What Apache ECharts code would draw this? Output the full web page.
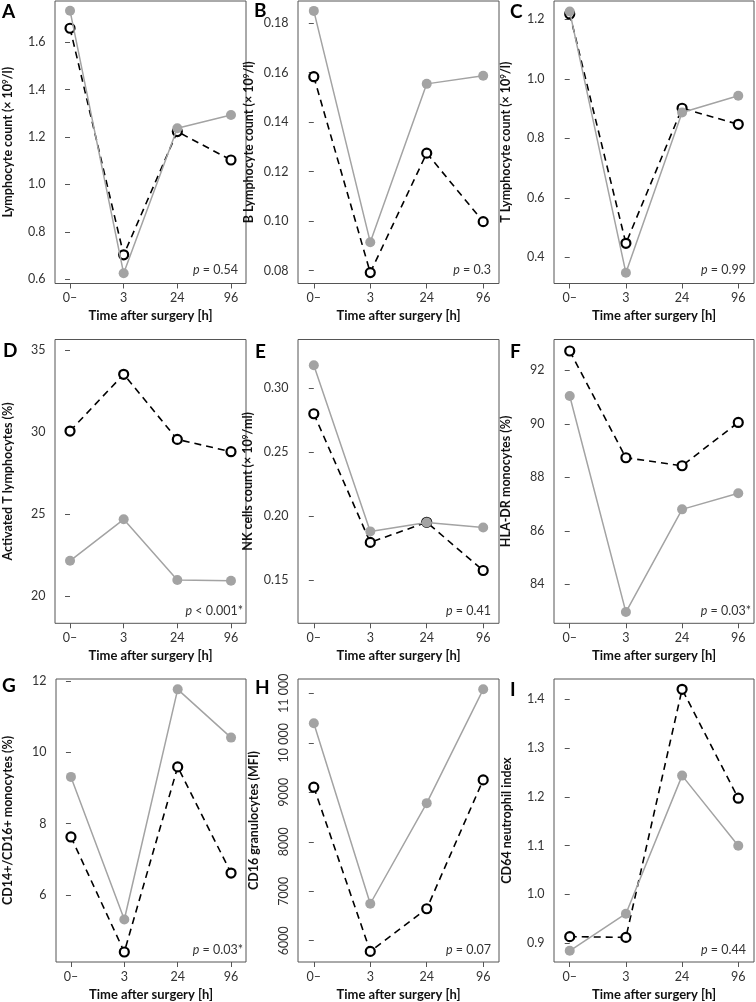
<!DOCTYPE html>
<html>
<head>
<meta charset="utf-8">
<script src="https://cdn.jsdelivr.net/npm/echarts@6/dist/echarts.min.js"></script>
<style>
html,body{margin:0;padding:0;background:#fff;}
#chart{width:756px;height:1002px;}
</style>
</head>
<body>
<div id="chart"></div>
<script>
// ---- data ----
const categories = ['0–', '3', '24', '96'];
const xTitle = 'Time after surgery [h]';
const panelLetters = ['A','B','C','D','E','F','G','H','I'];
// {s|9} marks the superscript 9 of 10^9
const yTitles = [
  'Lymphocyte count (× 10{s|9}/l)',
  'B Lymphocyte count (× 10{s|9}/l)',
  'T Lymphocyte count (× 10{s|9}/l)',
  'Activated T lymphocytes (%)',
  'NK cells count (× 10{s|9}/ml)',
  'HLA-DR monocytes (%)',
  'CD14+/CD16+ monocytes (%)',
  'CD16 granulocytes (MFI)',
  'CD64 neutrophil index'
];
const pSymbols = ['=', '=', '=', '<', '=', '=', '=', '=', '='];
const pValues = ['0.54', '0.3', '0.99', '0.001*', '0.41', '0.03*', '0.03*', '0.07', '0.44'];

// filled grey series and open black series, per panel
const lymphGrey  = [1.733, 0.625, 1.237, 1.293];
const lymphBlack = [1.659, 0.703, 1.223, 1.103];
const bLymphGrey  = [0.185, 0.0915, 0.1555, 0.1588];
const bLymphBlack = [0.1584, 0.0792, 0.1275, 0.0998];
const tLymphGrey  = [1.226, 0.348, 0.887, 0.943];
const tLymphBlack = [1.218, 0.447, 0.901, 0.847];
const actTGrey  = [22.15, 24.68, 20.98, 20.93];
const actTBlack = [30.06, 33.52, 29.55, 28.8];
const nkGrey  = [0.3178, 0.1879, 0.1949, 0.191];
const nkBlack = [0.2799, 0.1793, 0.195, 0.1573];
const hlaGrey  = [91.04, 82.96, 86.8, 87.4];
const hlaBlack = [92.72, 88.73, 88.43, 90.05];
const cd14Grey  = [9.31, 5.32, 11.76, 10.41];
const cd14Black = [7.63, 4.41, 9.59, 6.62];
const cd16Grey  = [10395, 6747, 8780, 11081];
const cd16Black = [9103, 5784, 6646, 9250];
const cd64Grey  = [0.884, 0.960, 1.2434, 1.0994];
const cd64Black = [0.913, 0.9115, 1.4205, 1.197];

// y tick values per panel
const yTicksA = [0.6, 0.8, 1.0, 1.2, 1.4, 1.6];
const yTicksB = [0.08, 0.10, 0.12, 0.14, 0.16, 0.18];
const yTicksC = [0.4, 0.6, 0.8, 1.0, 1.2];
const yTicksD = [20, 25, 30, 35];
const yTicksE = [0.15, 0.20, 0.25, 0.30];
const yTicksF = [84, 86, 88, 90, 92];
const yTicksG = [6, 8, 10, 12];
const yTicksH = [6000, 7000, 8000, 9000, 10000, 11000];
const yTicksI = [0.9, 1.0, 1.1, 1.2, 1.3, 1.4];

// y axis extents
const yRanges = [
  [0.582, 1.774], [0.0748, 0.189], [0.312, 1.2615],
  [18.34, 35.64], [0.116, 0.338], [82.54, 93.15],
  [4.13, 12.05], [5570, 11289], [0.861, 1.4416]
];

// ---- layout ----
const greyData = [lymphGrey, bLymphGrey, tLymphGrey, actTGrey, nkGrey, hlaGrey, cd14Grey, cd16Grey, cd64Grey];
const blackData = [lymphBlack, bLymphBlack, tLymphBlack, actTBlack, nkBlack, hlaBlack, cd14Black, cd16Black, cd64Black];
const yTicks = [yTicksA, yTicksB, yTicksC, yTicksD, yTicksE, yTicksF, yTicksG, yTicksH, yTicksI];
const decimals = [1, 2, 1, 0, 2, 0, 0, 0, 1];

const colLeft = [43, 298, 554];
const colRight = [246, 499, 754];
const rowTop = [1, 339.5, 679];
const rowBottom = [283.5, 623.3, 962.3];
const yNameGap = [41, 43, 42, 41, 44, 42, 42, 38, 41];
const letterPos = [[2,2],[254,1],[510,2],[3,341],[255,342],[510,342],[2,676],[255,678],[510,680]];

const FONT = 'Lato';
const grids = [], xAxes = [], yAxes = [], series = [], titles = [];

function fmtH(v) {
  const s = String(v);
  return s.length > 4 ? s.slice(0, s.length - 3) + ' ' + s.slice(-3) : s;
}

for (let i = 0; i < 9; i++) {
  const c = i % 3, r = Math.floor(i / 3);
  const L = colLeft[c], R = colRight[c], T = rowTop[r], B = rowBottom[r];
  grids.push({
    left: L, top: T, width: R - L, height: B - T,
    show: true, borderColor: '#555', borderWidth: 1, backgroundColor: 'transparent'
  });
  xAxes.push({
    type: 'value', gridIndex: i, min: -0.28, max: 3.28,
    name: xTitle, nameLocation: 'middle', nameGap: 26,
    nameTextStyle: { fontFamily: FONT, fontWeight: 'bold', fontSize: 13, color: '#111' },
    axisLine: { show: false },
    splitLine: { show: false },
    axisTick: { show: true, inside: false, length: 5, customValues: [0, 1, 2, 3], lineStyle: { color: '#555', width: 1 } },
    axisLabel: {
      customValues: [0, 1, 2, 3], margin: 8,
      fontFamily: FONT, fontSize: 12.5, color: '#333',
      formatter: v => categories[Math.round(v)]
    }
  });
  const isH = i === 7;
  yAxes.push({
    type: 'value', gridIndex: i, min: yRanges[i][0], max: yRanges[i][1],
    name: yTitles[i], nameLocation: 'middle', nameGap: yNameGap[i], nameRotate: 90,
    nameTextStyle: {
      fontFamily: FONT, fontWeight: 'bold', fontSize: 12.5, color: '#111',
      rich: {
        s: { fontFamily: FONT, fontWeight: 'bold', fontSize: 8, color: '#111', padding: [0, 0, 5, 0] }
      }
    },
    axisLine: { show: false },
    splitLine: { show: false },
    axisTick: { show: true, inside: false, length: 5, customValues: yTicks[i], lineStyle: { color: '#555', width: 1 } },
    axisLabel: {
      customValues: yTicks[i], margin: isH ? 8 : 9.5, rotate: isH ? 90 : 0,
      fontFamily: FONT, fontSize: 12.5, color: '#333',
      formatter: v => isH ? fmtH(Math.round(v)) : Number(v).toFixed(decimals[i])
    }
  });
  series.push({
    type: 'line', xAxisIndex: i, yAxisIndex: i, z: 2,
    data: blackData[i].map((v, k) => [k, v]),
    symbol: 'circle', symbolSize: 9, showSymbol: true,
    lineStyle: { color: '#000', width: 1.6, type: [7, 5] },
    itemStyle: { color: '#fff', borderColor: '#000', borderWidth: 2.2 },
    emphasis: { disabled: true }, silent: true
  });
  series.push({
    type: 'line', xAxisIndex: i, yAxisIndex: i, z: 3,
    data: greyData[i].map((v, k) => [k, v]),
    symbol: 'circle', symbolSize: 10, showSymbol: true,
    lineStyle: { color: '#a3a3a3', width: 1.5 },
    itemStyle: { color: '#a3a3a3' },
    emphasis: { disabled: true }, silent: true
  });
  titles.push({
    text: panelLetters[i], left: letterPos[i][0], top: letterPos[i][1], padding: 0,
    textStyle: { fontFamily: FONT, fontWeight: 'bold', fontSize: 19, color: '#000' }
  });
  const star = pValues[i].endsWith('*');
  const centerY = B - (r === 0 ? 13.5 : 12.3);
  titles.push({
    text: '{i|p} ' + pSymbols[i] + ' ' + pValues[i],
    right: 756 - (R - (star ? 3 : 8)), top: centerY - 7, padding: 0,
    textStyle: {
      fontFamily: FONT, fontSize: 12.5, color: '#333', fontWeight: 'normal',
      rich: { i: { fontFamily: FONT, fontSize: 12.5, fontStyle: 'italic', color: '#333' } }
    }
  });
}

const chart = echarts.init(document.getElementById('chart'), null, { renderer: 'canvas' });
chart.setOption({
  animation: false,
  backgroundColor: '#fff',
  title: titles,
  grid: grids,
  xAxis: xAxes,
  yAxis: yAxes,
  series: series
});
</script>
</body>
</html>
